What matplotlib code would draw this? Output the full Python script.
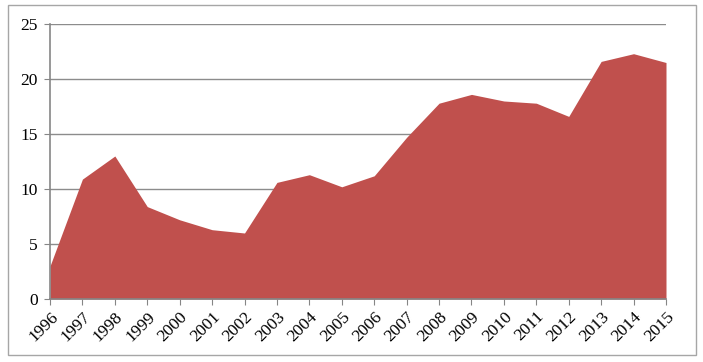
import matplotlib.pyplot as plt
from matplotlib.patches import Rectangle

years = [1996, 1997, 1998, 1999, 2000, 2001, 2002, 2003, 2004, 2005,
         2006, 2007, 2008, 2009, 2010, 2011, 2012, 2013, 2014, 2015]
values = [3.0, 10.9, 13.0, 8.4, 7.2, 6.3, 6.0, 10.6, 11.3, 10.2,
          11.2, 14.7, 17.8, 18.6, 18.0, 17.8, 16.6, 21.6, 22.3, 21.5]
y_ticks = [0, 5, 10, 15, 20, 25]

plt.rcParams['font.family'] = ['Liberation Serif', 'DejaVu Serif']

fig = plt.figure(figsize=(7.03, 3.62), dpi=100)
ax = fig.add_axes([50 / 703, 1 - 299 / 362, 616 / 703, 275 / 362])

ax.fill_between(years, values, 0, color="#C0504D", linewidth=0, zorder=2)

ax.set_xlim(years[0], years[-1])
ax.set_ylim(0, 25)
ax.set_yticks(y_ticks)
ax.set_xticks(years)
ax.set_xticklabels([str(y) for y in years], rotation=45, ha='right',
                   rotation_mode='anchor', fontsize=12.5)
ax.tick_params(axis='y', labelsize=12.5, length=4, color='#868686', pad=5)
ax.tick_params(axis='x', length=4, color='#868686', pad=3)
ax.grid(axis='y', color='#8c8c8c', linewidth=1, zorder=1)

for side in ['top', 'right']:
    ax.spines[side].set_visible(False)
for side in ['left', 'bottom']:
    ax.spines[side].set_color('#868686')
    ax.spines[side].set_linewidth(1.2)
    ax.spines[side].set_zorder(3)

# outer chart border
fig.patches.append(Rectangle((8 / 703, 1 - 355 / 362), 688 / 703, 350 / 362,
                             transform=fig.transFigure, fill=False,
                             edgecolor='#a6a6a6', linewidth=1))

fig.savefig("out.png", dpi=100)
